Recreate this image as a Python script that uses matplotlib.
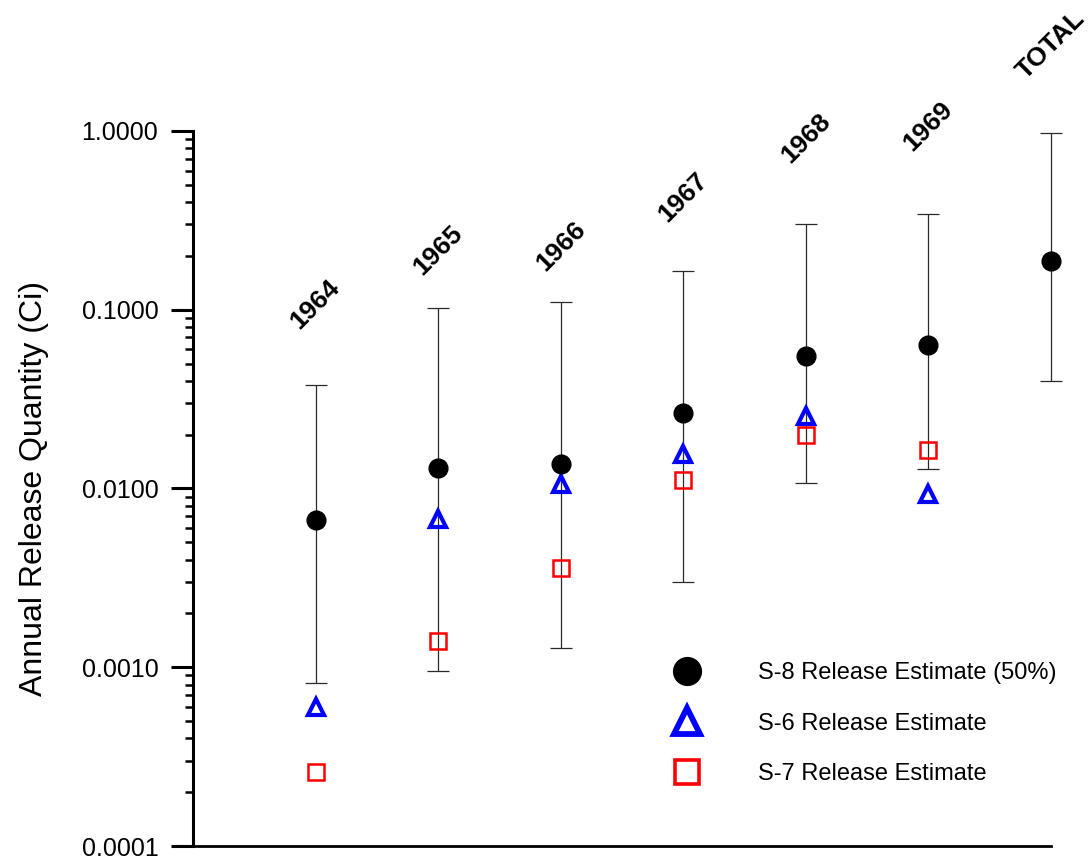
import numpy as np
import matplotlib
matplotlib.use("Agg")
import matplotlib.pyplot as plt
from matplotlib.lines import Line2D
from matplotlib.ticker import FixedLocator, LogLocator, NullFormatter, FuncFormatter

plt.rcParams["font.family"] = ["Liberation Sans", "DejaVu Sans"]

# values (Ci)
years = ["1964", "1965", "1966", "1967", "1968", "1969", "TOTAL"]
s8_median = [0.0067, 0.0130, 0.0137, 0.0264, 0.0551, 0.0635, 0.187]
s8_low = [0.00082, 0.00095, 0.00128, 0.0030, 0.0107, 0.0129, 0.040]
s8_high = [0.038, 0.102, 0.110, 0.165, 0.302, 0.343, 0.98]
s6_est = [0.0006, 0.00675, 0.0106, 0.0156, 0.0255, 0.0093]
s7_est = [0.00026, 0.0014, 0.0036, 0.0112, 0.0199, 0.0164]

# label offsets above the upper error cap (points)
label_off = [58, 42, 40, 53, 62, 63, 63]

x = np.arange(1, len(years) + 1)
xs = x[:len(s6_est)]
med = np.array(s8_median)
yerr = np.vstack([med - np.array(s8_low), np.array(s8_high) - med])

fig = plt.figure(figsize=(10.88, 8.61), dpi=100)
ax = fig.add_axes([0.1774, 0.0174, 0.966 - 0.1774, 0.8479 - 0.0174])

ax.errorbar(x, med, yerr=yerr, fmt="none", ecolor="#2a2a2a", elinewidth=0.9,
            capsize=8, capthick=0.9, zorder=2, clip_on=False)
ax.plot(x, med, "o", color="black", ms=13.5, zorder=4, clip_on=False)
ax.plot(xs, s6_est, "^", mfc="none", mec="#0000ff", mew=3.0, ms=12, zorder=3, clip_on=False)
ax.plot(xs, s7_est, "s", mfc="none", mec="#ff0000", mew=1.8, ms=11, zorder=3, clip_on=False)

for xi, lab, top, off in zip(x, years, s8_high, label_off):
    ax.annotate(lab, xy=(xi, top), xytext=(0, off), textcoords="offset points",
                rotation=45, ha="center", va="center", fontsize=19,
                fontweight="bold", annotation_clip=False)

ax.set_yscale("log")
ax.set_ylim(1e-4, 1)
ax.set_xlim(0, 7)

ax.yaxis.set_major_locator(FixedLocator([1e-4, 1e-3, 1e-2, 1e-1, 1]))
ax.yaxis.set_major_formatter(FuncFormatter(lambda v, p: "%.4f" % v))
ax.yaxis.set_minor_locator(LogLocator(base=10, subs=np.arange(2, 10)))
ax.yaxis.set_minor_formatter(NullFormatter())
ax.tick_params(axis="y", which="major", direction="out", length=16, width=2.2,
               labelsize=18, pad=9)
ax.tick_params(axis="y", which="minor", direction="out", length=6, width=1.8)
ax.set_xticks([])

for s in ["top", "right"]:
    ax.spines[s].set_visible(False)
ax.spines["left"].set_linewidth(2.2)
ax.spines["bottom"].set_linewidth(2.0)

ax.set_ylabel("Annual Release Quantity (Ci)", fontsize=23)
ax.yaxis.set_label_coords(-0.168, 0.5)

handles = [
    Line2D([], [], ls="none", marker="o", color="black", ms=20),
    Line2D([], [], ls="none", marker="^", mfc="none", mec="#0000ff", mew=4.2, ms=19),
    Line2D([], [], ls="none", marker="s", mfc="none", mec="#ff0000", mew=2.6, ms=17),
]
labels = ["S-8 Release Estimate (50%)", "S-6 Release Estimate", "S-7 Release Estimate"]
ax.legend(handles, labels, loc="upper left", bbox_to_anchor=(0.563, 0.257),
          frameon=False, fontsize=17, handlelength=0.95, handletextpad=2.5,
          labelspacing=1.2, borderpad=0, borderaxespad=0)

fig.savefig("out.png", dpi=100)
